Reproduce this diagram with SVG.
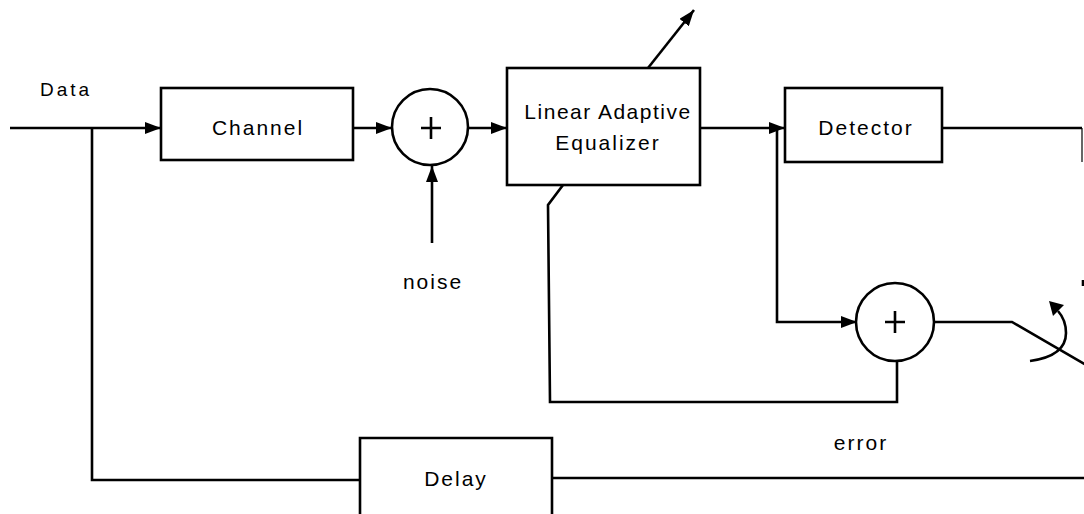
<svg xmlns="http://www.w3.org/2000/svg" width="1084" height="514" viewBox="0 0 1084 514">
<defs>
<marker id="ahb" viewBox="0 0 16 12" refX="16" refY="6" markerWidth="16" markerHeight="12" markerUnits="userSpaceOnUse" orient="auto">
<path d="M0,0 L16,6 L0,12 z" fill="#000"/>
</marker>
</defs>
<style>
.box{fill:#fff;stroke:#000;stroke-width:2.6}
.ln{fill:none;stroke:#000;stroke-width:2.6}
.t{font-family:"Liberation Sans",Arial,sans-serif;font-size:21px;letter-spacing:2px;fill:#000;text-anchor:middle}
</style>
<rect width="1084" height="514" fill="#fff"/>
<g id="connectors">
<line class="ln" x1="10" y1="128" x2="161" y2="128" marker-end="url(#ahb)"/>
<polyline class="ln" points="92,128 92,480 360,480"/>
<line class="ln" x1="353" y1="128" x2="392" y2="128" marker-end="url(#ahb)"/>
<line class="ln" x1="468" y1="128" x2="507" y2="128" marker-end="url(#ahb)"/>
<line class="ln" x1="432" y1="243" x2="432" y2="166" marker-end="url(#ahb)"/>
<line class="ln" x1="648" y1="68" x2="694" y2="10" marker-end="url(#ahb)"/>
<polyline class="ln" points="563,185 548,205 550,402 897,402 897,361"/>
<line class="ln" x1="700" y1="128" x2="785" y2="128" marker-end="url(#ahb)"/>
<polyline class="ln" points="777,128 777,322 857,322" marker-end="url(#ahb)"/>
<polyline class="ln" points="942,128 1082,128"/>
<line x1="1082" y1="128" x2="1082" y2="162" stroke="#000" stroke-width="1.2"/>
<polyline class="ln" points="934,322 1012,322 1086,365"/>
<path class="ln" d="M1030,361 Q1066,356 1066,333 Q1066,320 1058,311"/>
<path d="M1049,301 L1064,305 L1053,316 z" fill="#000"/>
<line class="ln" x1="1083" y1="280" x2="1083" y2="286"/>
<line class="ln" x1="552" y1="478" x2="1084" y2="478"/>
</g>
<g id="data-label"><text class="t" x="66" y="96" style="font-size:19px;letter-spacing:3px">Data</text></g>
<g id="channel"><rect class="box" x="161" y="88" width="192" height="72"/><text class="t" x="258" y="135">Channel</text></g>
<g id="sum1"><circle class="box" cx="430" cy="127" r="38"/><path class="ln" d="M421,128 H441 M431,117 V139"/></g>
<g id="noise"><text class="t" x="433" y="289">noise</text></g>
<g id="equalizer"><rect class="box" x="507" y="68" width="193" height="117"/><text class="t" x="608" y="119" style="letter-spacing:1.5px">Linear Adaptive</text><text class="t" x="608" y="150">Equalizer</text></g>
<g id="detector"><rect class="box" x="785" y="88" width="157" height="74"/><text class="t" x="866" y="135">Detector</text></g>
<g id="sum2"><circle class="box" cx="895" cy="322" r="39"/><path class="ln" d="M885,322 H905 M895,311 V333"/></g>
<g id="error"><text class="t" x="861" y="450">error</text></g>
<g id="delay"><path class="box" d="M360,516 V438 H552 V516"/><text class="t" x="456" y="486">Delay</text></g>
</svg>
